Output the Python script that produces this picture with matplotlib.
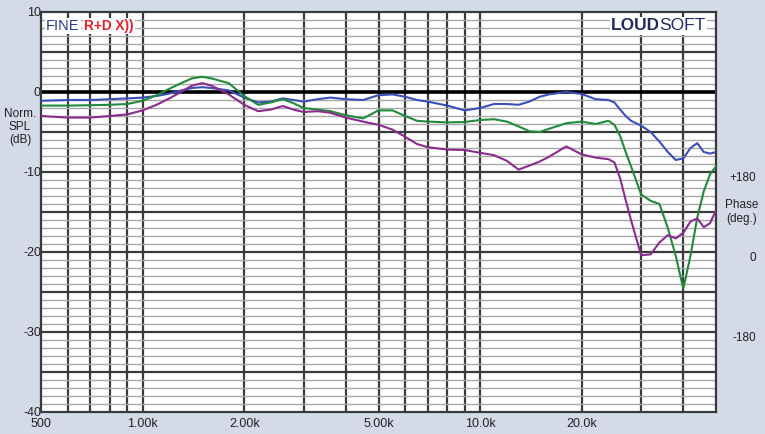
import numpy as np
import matplotlib
matplotlib.use('Agg')
from matplotlib import pyplot as plt

plt.rcParams['font.family'] = ['Liberation Sans', 'DejaVu Sans']

# frequency grid (Hz) shared by the three curves
freqs = [500, 600, 700, 800, 900, 1000, 1100, 1200, 1300, 1400, 1500, 1600,
         1800, 2000, 2200, 2400, 2600, 2800, 3000, 3300, 3600, 4000, 4500,
         5000, 5500, 6000, 6500, 7000, 8000, 9000, 10000, 11000, 12000,
         13000, 14000, 15000, 16000, 18000, 20000, 22000, 24000, 25000,
         26000, 27000, 28000, 30000, 32000, 34000, 36000, 38000, 40000,
         42000, 44000, 46000, 48000, 50000]

spl_blue = [-1.1, -1.0, -1.0, -0.9, -0.8, -0.7, -0.5, -0.2, 0.2, 0.5, 0.6, 0.5,
            0.2, -0.7, -1.3, -1.2, -0.8, -1.0, -1.2, -0.9, -0.7, -0.9, -1.0,
            -0.4, -0.3, -0.6, -1.0, -1.2, -1.7, -2.3, -2.0, -1.5, -1.5,
            -1.6, -1.2, -0.6, -0.3, 0.0, -0.25, -0.9, -1.0, -1.3,
            -2.2, -3.0, -3.6, -4.2, -5.0, -6.2, -7.5, -8.5, -8.3,
            -7.0, -6.4, -7.5, -7.7, -7.5]

spl_green = [-1.7, -1.7, -1.65, -1.6, -1.5, -1.1, -0.4, 0.4, 1.1, 1.7, 1.9, 1.7,
             1.1, -0.5, -1.6, -1.3, -0.9, -1.4, -2.0, -2.2, -2.4, -2.9, -3.3,
             -2.3, -2.3, -3.0, -3.6, -3.7, -3.8, -3.75, -3.5, -3.4, -3.7,
             -4.3, -4.9, -5.0, -4.6, -3.9, -3.7, -4.0, -3.6, -4.1,
             -5.5, -7.5, -9.3, -12.8, -13.6, -14.0, -17.0, -20.5, -24.6,
             -20.5, -15.7, -12.4, -10.3, -9.3]

spl_purple = [-3.0, -3.2, -3.2, -3.0, -2.8, -2.3, -1.6, -0.8, 0.0, 0.8, 1.1, 0.8,
              -0.3, -1.6, -2.4, -2.2, -1.75, -2.2, -2.5, -2.4, -2.6, -3.2, -3.7,
              -4.1, -4.7, -5.6, -6.5, -6.9, -7.2, -7.25, -7.6, -7.9, -8.6,
              -9.7, -9.2, -8.7, -8.1, -6.8, -7.8, -8.2, -8.4, -8.8,
              -10.8, -13.5, -16.0, -20.4, -20.3, -18.8, -17.9, -18.3, -17.6,
              -16.2, -15.8, -16.9, -16.4, -14.8]

x_ticks = [500, 1000, 2000, 5000, 10000, 20000]
x_tick_labels = ['500', '1.00k', '2.00k', '5.00k', '10.0k', '20.0k']
y_ticks = [10, 0, -10, -20, -30, -40]
phase_labels = ['+180', '0', '-180']
phase_pos = [-10.75, -20.75, -30.75]

W, H = 765, 434
bg = '#d5dae8'
txt = '#222222'

fig = plt.figure(figsize=(W / 100, H / 100), dpi=100, facecolor=bg)
ax = fig.add_axes([41 / W, 22 / H, 675 / W, 400 / H])
ax.set_facecolor('white')
ax.set_xscale('log')
ax.set_xlim(500, 50000)
ax.set_ylim(-40, 10)

# grid
minor_x = [f * m for f in (100, 1000, 10000) for m in range(1, 10)]
for f in minor_x:
    if 500 < f < 50000:
        ax.axvline(f, color='#3a3a3a', lw=1.6, zorder=1)
for v in range(-39, 10):
    if v % 5:
        ax.axhline(v, color='#a8a8a8', lw=1.0, zorder=1)
for v in range(-35, 10, 5):
    ax.axhline(v, color='#3a3a3a', lw=1.6, zorder=1)
ax.axhline(0, color='black', lw=2.6, zorder=1)

ax.plot(freqs, spl_blue, color='#3b4fb8', lw=1.5, zorder=3)
ax.plot(freqs, spl_green, color='#228b3b', lw=1.5, zorder=3)
ax.plot(freqs, spl_purple, color='#8b2a8f', lw=1.5, zorder=3)

for s in ax.spines.values():
    s.set_color('#3a3a3a')
    s.set_linewidth(1.6)

ax.set_xticks(x_ticks)
ax.set_xticklabels(x_tick_labels)
ax.xaxis.set_minor_locator(matplotlib.ticker.NullLocator())
ax.set_yticks(y_ticks)
ax.set_yticklabels([str(t) for t in y_ticks])
ax.tick_params(length=0, labelsize=9, colors=txt)
ax.tick_params(axis='x', pad=4)
ax.tick_params(axis='y', pad=0)
for lab in ax.get_yticklabels():
    lab.set_verticalalignment('center_baseline')

fig.text(20 / W, 1 - 127 / H, 'Norm.\nSPL\n(dB)', ha='center', va='center',
         fontsize=8.5, color=txt, linespacing=1.15)

for lab, pos in zip(phase_labels, phase_pos):
    ax.text(1.0 + 40 / 675, pos, lab, transform=ax.get_yaxis_transform(),
            ha='right', va='center', fontsize=8.5, color=txt)
ax.text(1.0 + 26 / 675, -15.0, 'Phase\n(deg.)', transform=ax.get_yaxis_transform(),
        ha='center', va='center', fontsize=8.5, color=txt, linespacing=1.15)

# logos
box = dict(facecolor='white', edgecolor='none', pad=1)
fig.text(46 / W, 1 - 26 / H, 'FINE', ha='left', va='center', fontsize=10.5,
         color='#253a86', bbox=box)
fig.text(84 / W, 1 - 26 / H, 'R+D X))', ha='left', va='center', fontsize=9.8,
         color='#e8202a', fontweight='bold', bbox=box)

loud = fig.text(611 / W, 1 - 26 / H, 'LOUD', ha='left', va='center', fontsize=12.5,
                color='#1f2d60', fontweight='bold', bbox=box)
fig.canvas.draw()
ext = loud.get_window_extent()
fig.text(ext.x1 / W - 1 / W, 1 - 26 / H, 'SOFT', ha='left', va='center',
         fontsize=12.5, color='#1f2d60', bbox=box)

fig.savefig('out.png', dpi=100, facecolor=bg)
